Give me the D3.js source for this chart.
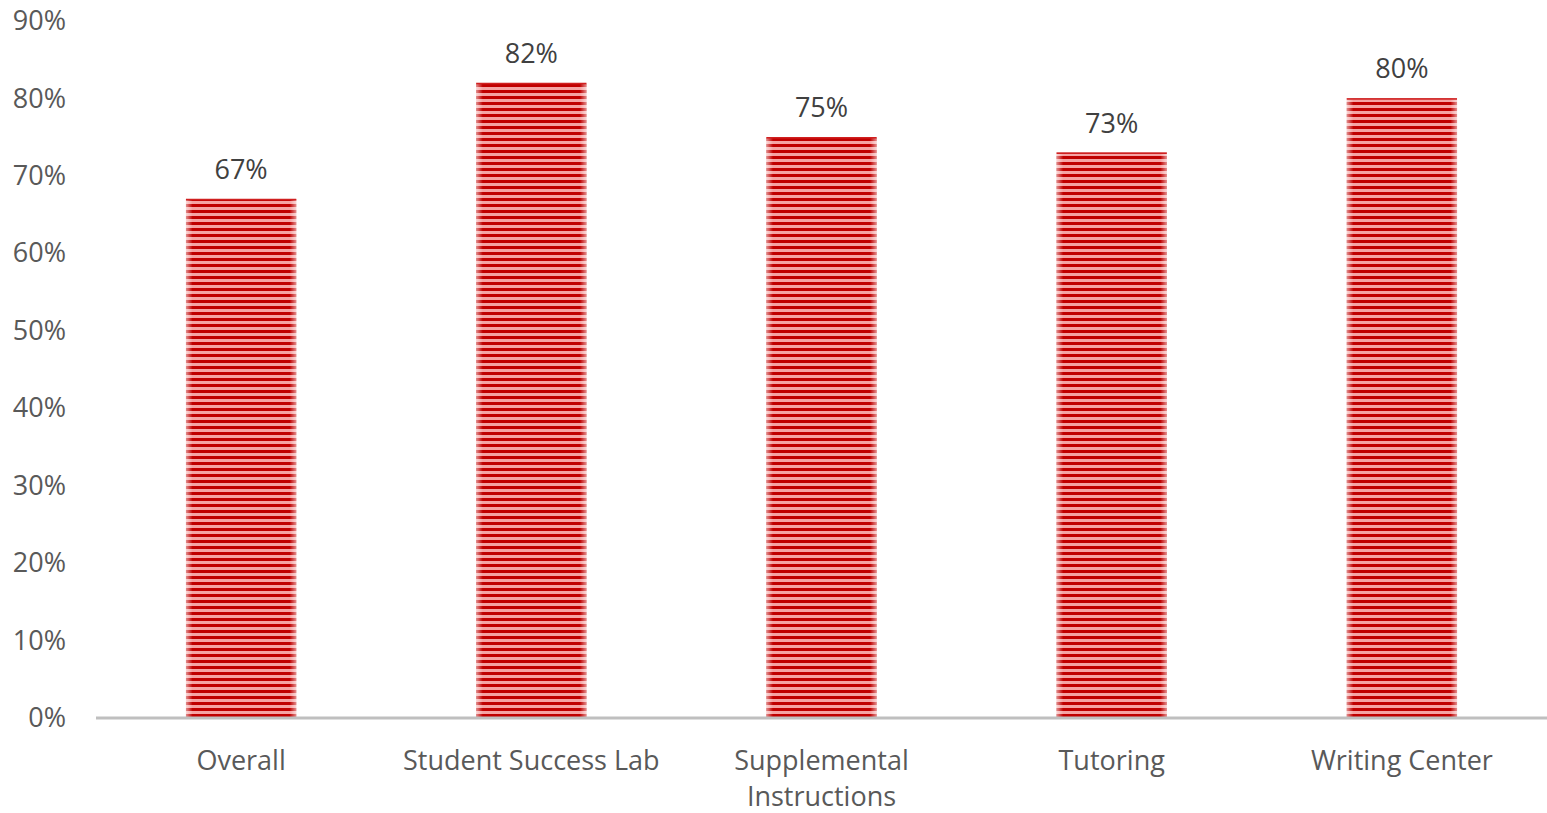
<!DOCTYPE html>
<html><head><meta charset="utf-8">
<script src="https://cdn.jsdelivr.net/npm/d3@7"></script>
<style>html,body{margin:0;padding:0;background:#fff;overflow:hidden}</style>
</head><body>
<svg id="chart" width="1547" height="813"></svg>
<script>
const categories = ["Overall", "Student Success Lab", "Supplemental Instructions", "Tutoring", "Writing Center"];
const values = [0.67, 0.82, 0.75, 0.73, 0.80];
const yTicks = [0, 0.1, 0.2, 0.3, 0.4, 0.5, 0.6, 0.7, 0.8, 0.9];
const labelLines = [["Overall"], ["Student Success Lab"], ["Supplemental", "Instructions"], ["Tutoring"], ["Writing Center"]];

(function () {
const svg = d3.select("#chart");
const font = "Open Sans, sans-serif";
const fs = 27;
const mLeft = 96, mRight = 1547, mTop = 21, mBottom = 718;
const x = d3.scaleBand().domain(categories).range([mLeft, mRight]).paddingInner(0.62).paddingOuter(0.31);
const y = d3.scaleLinear().domain([0, 0.9]).range([mBottom, mTop]);

const defs = svg.append("defs");
const pat = defs.append("pattern").attr("id", "stripes").attr("patternUnits", "userSpaceOnUse")
  .attr("width", 8).attr("height", 6);
pat.append("rect").attr("width", 8).attr("height", 6).attr("fill", "#f5a3a3");
pat.append("rect").attr("y", 0).attr("width", 8).attr("height", 3).attr("fill", "#c00000");
const grad = defs.append("linearGradient").attr("id", "edge").attr("x1", 0).attr("x2", 1).attr("y1", 0).attr("y2", 0);
[[0, 0.55], [0.06, 0], [0.94, 0], [1, 0.55]].forEach(([o, a]) =>
  grad.append("stop").attr("offset", o).attr("stop-color", "#fff").attr("stop-opacity", a));

const bars = svg.append("g");
bars.selectAll("rect.bar").data(values).join("rect").attr("class", "bar")
  .attr("x", (d, i) => x(categories[i])).attr("width", x.bandwidth())
  .attr("y", d => y(d)).attr("height", d => mBottom - y(d)).attr("fill", "url(#stripes)");
bars.selectAll("rect.edge").data(values).join("rect").attr("class", "edge")
  .attr("x", (d, i) => x(categories[i])).attr("width", x.bandwidth())
  .attr("y", d => y(d)).attr("height", d => mBottom - y(d)).attr("fill", "url(#edge)");
bars.selectAll("line.topl").data(values).join("line").attr("class", "topl")
  .attr("x1", (d, i) => x(categories[i])).attr("x2", (d, i) => x(categories[i]) + x.bandwidth())
  .attr("y1", d => y(d) + 0.5).attr("y2", d => y(d) + 0.5).attr("stroke", "#d02020").attr("stroke-width", 1.5);

const yAxis = d3.axisLeft(y).tickValues(yTicks).tickFormat(d3.format(".0%")).tickSize(0).tickPadding(30);
const ga = svg.append("g").attr("transform", `translate(${mLeft},0)`).call(yAxis);
ga.select(".domain").remove();
ga.selectAll("text").attr("font-family", font).attr("font-size", fs).attr("fill", "#595959");

svg.append("line").attr("x1", mLeft).attr("x2", mRight).attr("y1", mBottom).attr("y2", mBottom)
  .attr("stroke", "#bfbfbf").attr("stroke-width", 3);

const cl = svg.append("g");
categories.forEach((c, i) => {
  const cx = x(c) + x.bandwidth() / 2;
  const t = cl.append("text").attr("x", cx).attr("y", 770)
    .attr("text-anchor", "middle").attr("font-family", font).attr("font-size", fs).attr("fill", "#595959");
  labelLines[i].forEach((l, j) => t.append("tspan").attr("x", cx).attr("dy", j ? 36 : 0).text(l));
});

svg.append("g").selectAll("text").data(values).join("text")
  .attr("x", (d, i) => x(categories[i]) + x.bandwidth() / 2).attr("y", d => y(d) - 20)
  .attr("text-anchor", "middle").attr("font-family", font).attr("font-size", fs).attr("fill", "#404040")
  .text(d => d3.format(".0%")(d));
})();
</script>
</body></html>
